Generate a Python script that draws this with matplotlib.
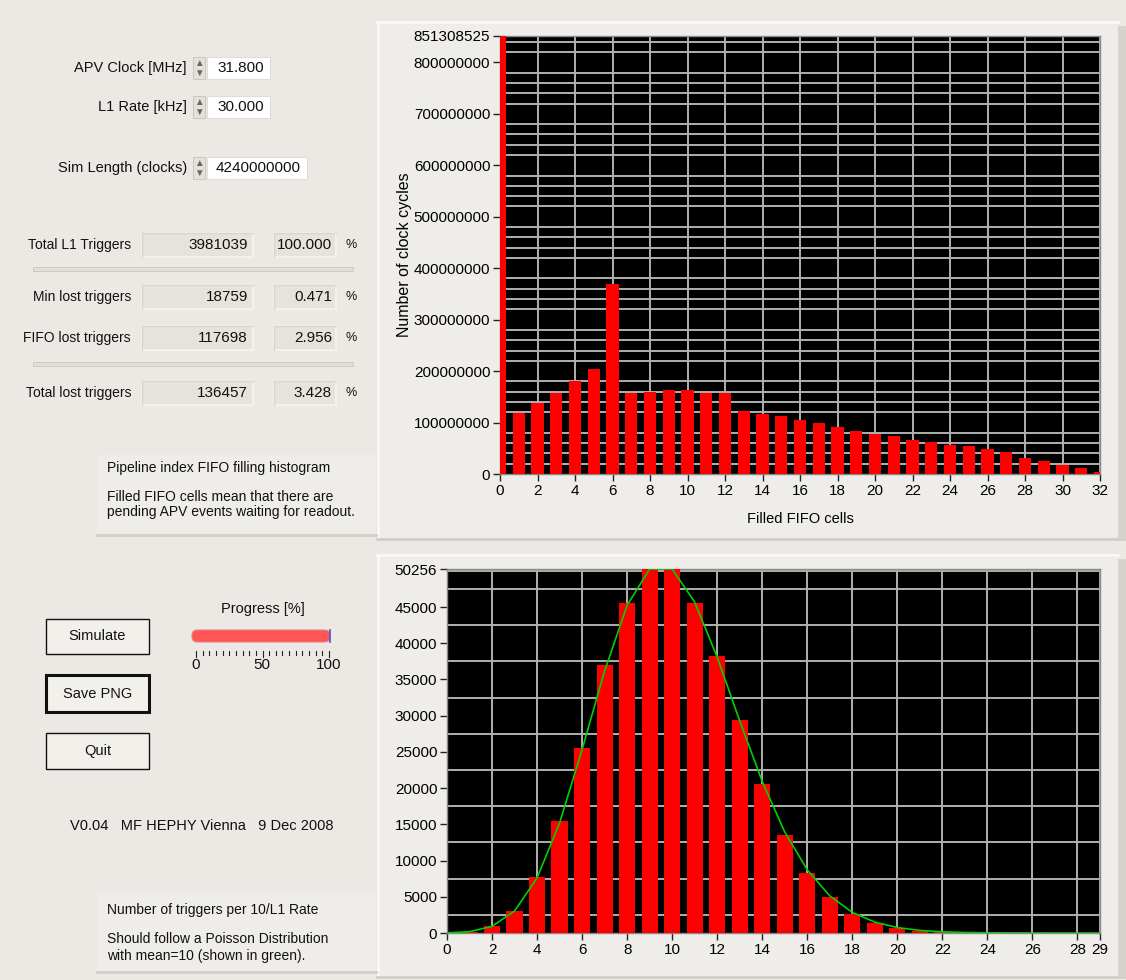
import numpy as np
import matplotlib.pyplot as plt
from matplotlib.patches import Rectangle, FancyBboxPatch
from matplotlib.ticker import FixedLocator, MultipleLocator

plt.rcParams['font.family'] = ['Liberation Sans', 'DejaVu Sans']
plt.rcParams['font.size'] = 10.5

# FIFO filling histogram (clock cycles per number of filled cells)
fifo_cells = np.arange(0, 33)
fifo_counts = [851308525, 119e6, 138e6, 157e6, 181e6, 205e6, 369e6, 157e6, 160e6,
               163e6, 163e6, 157e6, 157e6, 123e6, 117e6, 112e6, 104e6, 99e6, 91e6,
               83e6, 78e6, 73e6, 67e6, 62e6, 56e6, 54e6, 48e6, 43e6, 32e6, 25e6,
               17e6, 11e6, 3e6]
fifo_ymax = 851308525
fifo_yticks = [0, 100000000, 200000000, 300000000, 400000000, 500000000,
               600000000, 700000000, 800000000, 851308525]

# triggers per 10/L1 rate window, with the Poisson(10) expectation
trig_n = np.arange(0, 30)
trig_counts = [18, 180, 1000, 2990, 7730, 15460, 25585, 36960, 45600, 50256,
               50256, 45500, 38240, 29400, 20570, 13530, 8240, 4920, 2620, 1340,
               740, 320, 150, 60, 25, 10, 4, 1, 0, 0]
poisson_expect = [18, 182, 912, 3041, 7601, 15197, 25331, 36186, 45232, 50256,
                  50256, 45690, 38074, 29288, 20920, 13947, 8717, 5127, 2849, 1499,
                  750, 357, 162, 71, 29, 12, 5, 2, 1, 0]
trig_ymax = 50256
trig_yticks = [0, 5000, 10000, 15000, 20000, 25000, 30000, 35000, 40000, 45000, 50256]

W, H = 1126, 980
BG = '#ECE9E4'
TXT = 10.5
NUM = 11
fig = plt.figure(figsize=(W / 100, H / 100), dpi=100, facecolor=BG)


def fx(x):
    return x / W


def fy(y):
    return 1 - y / H


def box(x0, y0, x1, y1, fc, ec='none', lw=1.0, z=0):
    r = Rectangle((fx(x0), fy(y1)), fx(x1 - x0), (y1 - y0) / H, transform=fig.transFigure,
                  facecolor=fc, edgecolor=ec, linewidth=lw, zorder=z)
    fig.add_artist(r)
    return r


def hline(x0, x1, y, color, lw=1.0):
    fig.add_artist(plt.Line2D([fx(x0), fx(x1)], [fy(y), fy(y)], transform=fig.transFigure,
                              color=color, linewidth=lw))


def vline(x, y0, y1, color, lw=1.0):
    fig.add_artist(plt.Line2D([fx(x), fx(x)], [fy(y0), fy(y1)], transform=fig.transFigure,
                              color=color, linewidth=lw))


def txt(x, y, s, ha='left', size=TXT, **kw):
    fig.text(fx(x), fy(y), s, ha=ha, va='center', fontsize=size, color='#111111', **kw)


# chart panels
for y0, y1 in [(22, 538), (555, 976)]:
    box(377, y0, 1118, y1, '#EFEDE9')
    hline(377, 1118, y0, '#FAF9F7', 2)
    vline(378, y0, y1, '#FAF9F7', 2)
    box(1118, y0 + 4, 1126, y1, '#D6D3CC')
    hline(377, 1126, y1 + 1, '#D2CFC8', 2)

# numeric controls
def spin(x, y):
    box(x, y - 11, x + 12, y + 11, '#E4E1DA', ec='#C5C2BA', lw=0.6)
    fig.text(fx(x + 6), fy(y - 5), '\u25b2', ha='center', va='center', fontsize=7, color='#666666')
    fig.text(fx(x + 6), fy(y + 5), '\u25bc', ha='center', va='center', fontsize=7, color='#666666')


controls = [("APV Clock [MHz]", "31.800", 68, 270),
            ("L1 Rate [kHz]", "30.000", 107, 270),
            ("Sim Length (clocks)", "4240000000", 168, 307)]
for label, val, y, x1 in controls:
    txt(187, y, label, ha='right')
    spin(193, y)
    box(207, y - 11, x1, y + 11, 'white', ec='#E0DDD6', lw=0.8)
    txt(x1 - 6, y, val, ha='right', size=NUM)

# indicators
indicators = [("Total L1 Triggers", "3981039", "100.000", 245),
              ("Min lost triggers", "18759", "0.471", 297),
              ("FIFO lost triggers", "117698", "2.956", 338),
              ("Total lost triggers", "136457", "3.428", 393)]
for label, n, pct, y in indicators:
    txt(131, y, label, ha='right', size=10)
    box(142, y - 12, 253, y + 12, '#E6E3DC', ec='#F5F4F1', lw=1.2)
    hline(142, 253, y - 12, '#D8D5CE', 1)
    vline(142, y - 12, y + 12, '#D8D5CE', 1)
    txt(248, y, n, ha='right', size=NUM)
    box(274, y - 12, 336, y + 12, '#E6E3DC', ec='#F5F4F1', lw=1.2)
    hline(274, 336, y - 12, '#D8D5CE', 1)
    vline(274, y - 12, y + 12, '#D8D5CE', 1)
    txt(332, y, pct, ha='right', size=NUM)
    txt(345, y, '%', size=9)
for y in (269, 364):
    box(33, y - 2, 353, y + 2, '#E2DFD8', ec='#C9C6BF', lw=0.6)

# description boxes
def note(y0, lines):
    box(97, y0, 376, y0 + 80, '#EFEDE9')
    hline(97, 376, y0 + 80, '#D2CFC8', 2)
    for y, s in lines:
        txt(107, y, s, size=10)


note(455, [(468, "Pipeline index FIFO filling histogram"),
           (497, "Filled FIFO cells mean that there are"),
           (512, "pending APV events waiting for readout.")])
note(892, [(910, "Number of triggers per 10/L1 Rate"),
           (939, "Should follow a Poisson Distribution"),
           (956, "with mean=10 (shown in green).")])

# buttons
for label, y0, y1, lw in [("Simulate", 619, 654, 1.0), ("Save PNG", 675, 712, 2.2), ("Quit", 733, 769, 1.0)]:
    box(46, y0, 149, y1, '#F2F0EB', ec='#111111', lw=lw)
    txt(97.5, (y0 + y1) / 2, label, ha='center')

# progress bar
txt(263, 609, "Progress [%]", ha='center')
pb = FancyBboxPatch((fx(192), fy(642)), fx(138), 12 / H, boxstyle='round,pad=0,rounding_size=0.005',
                    transform=fig.transFigure, facecolor='#FF5555', edgecolor='#F08080', lw=0.8)
fig.add_artist(pb)
vline(329.5, 630, 642, '#5050E0', 1.2)
for i in range(21):
    t = 196 + i * (329 - 196) / 20
    vline(t, 651, 657 if i % 10 == 0 else 655, '#222222', 0.8)
for v, t in [("0", 196), ("50", 262), ("100", 329)]:
    txt(t, 665, v, ha='center', size=NUM)

txt(70, 826, "V0.04   MF HEPHY Vienna   9 Dec 2008", size=10.5)


def style_plot(ax):
    ax.set_facecolor('black')
    for s in ax.spines.values():
        s.set_color('#8A8A8A')
        s.set_linewidth(1.0)
    ax.tick_params(direction='out', length=5, width=1, color='#222222', labelsize=NUM, pad=2)
    ax.tick_params(which='minor', length=0)
    ax.grid(which='both', color='#B0B0B0', linewidth=1.4)
    ax.set_axisbelow(True)


# FIFO histogram
ax1 = fig.add_axes([fx(500), fy(474), fx(600), (474 - 36) / H])
style_plot(ax1)
ax1.bar(fifo_cells, fifo_counts, width=0.65, color='#FF0000', zorder=3)
ax1.set_xlim(0, 32)
ax1.set_ylim(0, fifo_ymax)
ax1.xaxis.set_major_locator(MultipleLocator(2))
ax1.yaxis.set_major_locator(FixedLocator(fifo_yticks))
ax1.yaxis.set_minor_locator(MultipleLocator(20000000))
ax1.set_yticklabels([str(v) for v in fifo_yticks])
ax1.grid(which='major', axis='y', visible=False)
ax1.grid(which='minor', axis='y', visible=True)
ax1.set_xlabel("Filled FIFO cells", fontsize=10.5, labelpad=10)
ax1.set_ylabel("Number of clock cycles", fontsize=11.5, labelpad=1)

# trigger count histogram
ax2 = fig.add_axes([fx(447), fy(933), fx(653), (933 - 569) / H])
style_plot(ax2)
ax2.bar(trig_n, trig_counts, width=0.72, color='#FF0000', zorder=3)
ax2.plot(trig_n, poisson_expect, color='#00D000', linewidth=1.2, zorder=4)
ax2.set_xlim(0, 29)
ax2.set_ylim(0, trig_ymax)
ax2.xaxis.set_major_locator(FixedLocator(list(range(0, 29, 2)) + [29]))
ax2.yaxis.set_major_locator(FixedLocator(trig_yticks))
ax2.yaxis.set_minor_locator(MultipleLocator(2500))
ax2.set_yticklabels([str(v) for v in trig_yticks])
ax2.grid(which='major', axis='y', visible=False)
ax2.grid(which='minor', axis='y', visible=True)

fig.savefig("out.png", dpi=100, facecolor=BG)
